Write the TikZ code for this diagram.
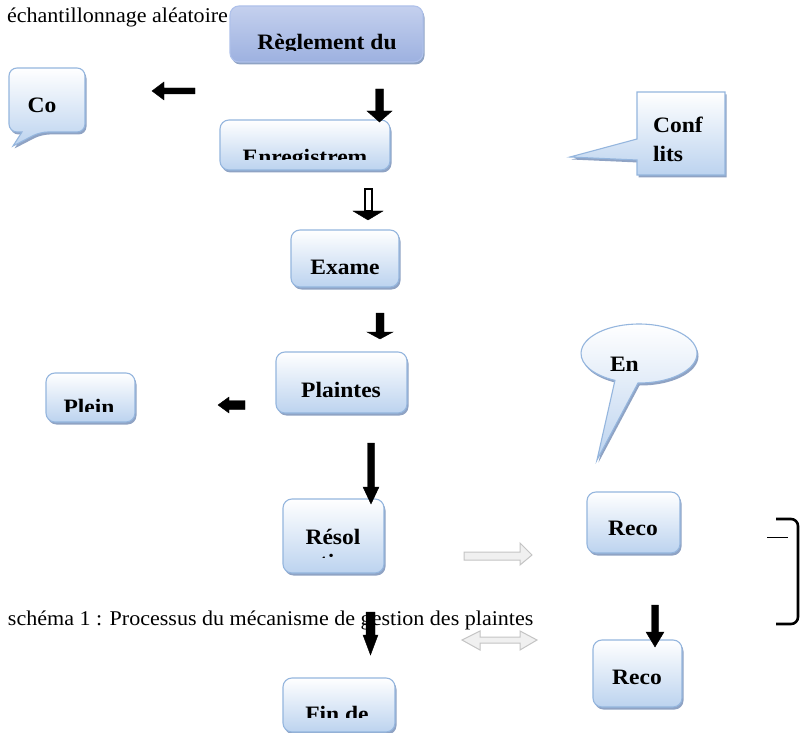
\documentclass[tikz,border=0pt]{standalone}
\usepackage{fontspec}
\setmainfont{Liberation Serif}
\newfontfamily\regf[FakeStretch=1.05]{Liberation Serif}
\newfontfamily\boldf[FakeStretch=1.07]{Liberation Serif}
\usetikzlibrary{shadows}
\definecolor{bordc}{HTML}{95B6DE}
\definecolor{botc}{HTML}{BCD3EF}
\definecolor{shc}{HTML}{8FA3C4}
\definecolor{rtop}{HTML}{C4D0EE}
\definecolor{rmid}{HTML}{E2E8F6}
\definecolor{rbot}{HTML}{9DB1E0}
\definecolor{rbord}{HTML}{AFC1EA}
\definecolor{gfill}{HTML}{F0F0F0}
\definecolor{gdraw}{HTML}{C4C4C4}
\begin{document}
\begin{tikzpicture}[x=1pt,y=-1pt,
  boxsh/.style={draw=bordc, line width=1.1pt, rounded corners=9pt, inner sep=0pt, outer sep=0pt,
    top color=white, bottom color=botc,
    general shadow={fill=shc, shadow xshift=1.5pt, shadow yshift=-2.5pt}},
  reglbox/.style={draw=rbord, line width=1.1pt, rounded corners=9pt, inner sep=0pt, outer sep=0pt,
    top color=rtop, middle color=rmid, bottom color=rbot,
    general shadow={fill=shc, shadow xshift=1.5pt, shadow yshift=-2.5pt}},
  callsh/.style={draw=bordc, line width=1.1pt, top color=white, bottom color=botc,
    general shadow={fill=shc, shadow xshift=1.5pt, shadow yshift=-2.5pt}},
  bt/.style={inner sep=0pt, outer sep=0pt, font=\boldf\bfseries\fontsize{22}{25}\selectfont},
  rt/.style={inner sep=0pt, outer sep=0pt, font=\regf\fontsize{21}{24}\selectfont},
  blk/.style={fill=black, draw=black, line width=0.4pt, line join=miter},
  gry/.style={fill=gfill, draw=gdraw, line width=1pt, line join=miter}]
\useasboundingbox[fill=white] (0,0) rectangle (804,733);

% top-left text
\node[rt, anchor=base west] (ech) at (7,22.5) {échantillonnage aléatoire};

% Règlement box
\node[reglbox, minimum width=193pt, minimum height=56pt] (regl) at (326.5,34) {};
\begin{scope}
  \clip (230,6) rectangle (423,51);
  \node[bt, anchor=base] (tregl) at (327,49.5) {Règlement du};
\end{scope}

% Co callout
\path[callsh] (9,100) [rounded corners=8pt] -- (9,68) -- (85,68) -- (85,132) -- (40,132)
  [sharp corners] -- (13,146) -- (22,132) [rounded corners=8pt] -- (9,132) -- cycle;
\node[bt, anchor=base] (tco) at (42,112.5) {Co};

% Enregistrement box
\node[boxsh, minimum width=170pt, minimum height=50pt] (enr) at (305,145) {};
\begin{scope}
  \clip (220,120) rectangle (390,159.5);
  \node[bt, anchor=base] (tenr) at (305,164.6) {Enregistrem};
\end{scope}

% Conflits callout
\path[callsh] (637,92) -- (725,92) -- (725,175) -- (637,175) -- (637,160) -- (570,157) -- (637,139) -- cycle;
\node[bt, anchor=base west] (tconf) at (653,133) {Conf};
\node[bt, anchor=base west] (tlits) at (653,162) {lits};

% Exame box
\node[boxsh, minimum width=108pt, minimum height=57pt] (exam) at (345,258.5) {};
\node[bt, anchor=base] (texam) at (345,274.5) {Exame};

% Plaintes box
\node[boxsh, minimum width=131pt, minimum height=61pt] (plai) at (341.5,382.5) {};
\node[bt, anchor=base] (tplai) at (341,397) {Plaintes};

% Plein box
\node[boxsh, minimum width=89pt, minimum height=49pt] (plein) at (90.5,397.5) {};
\begin{scope}
  \clip (46,373) rectangle (135,411);
  \node[bt, anchor=base] (tplein) at (89,414.6) {Plein};
\end{scope}

% En ellipse callout
\path[callsh] (638,383) arc[start angle=91, end angle=-245.5, x radius=58, y radius=29.5] -- (597,460) -- cycle;
\begin{scope}
  \clip (581,324) rectangle (697,370.8);
  \node[bt, anchor=base west] (ten) at (610,371.5) {En};
\end{scope}

% Résol box
\node[boxsh, minimum width=101pt, minimum height=74pt] (resol) at (333.5,536) {};
\node[bt, anchor=base] (tresol) at (333,544.5) {Résol};
\begin{scope}
  \clip (283,499) rectangle (384,557.5);
  \node[bt, anchor=base] (tresol2) at (333,569) {ution};
\end{scope}

% Reco boxes
\node[boxsh, minimum width=93pt, minimum height=61pt] (reco1) at (633.5,522.5) {};
\node[bt, anchor=base] (treco1) at (633,535.5) {Reco};
\node[boxsh, minimum width=89pt, minimum height=67pt] (reco2) at (637.5,673.5) {};
\node[bt, anchor=base] (treco2) at (637,684.5) {Reco};

% Fin de box
\node[boxsh, minimum width=112pt, minimum height=54pt] (fin) at (339,705) {};
\begin{scope}
  \clip (283,678) rectangle (395,717);
  \node[bt, anchor=base] (tfin) at (337,721.6) {Fin de};
\end{scope}

% caption
\node[rt, anchor=base west] (cap) at (8,625) {schéma 1 : Processus du mécanisme de gestion des plaintes};

% bracket and small dash
\draw[line width=2.6pt, rounded corners=7pt] (776,519) -- (798,519) -- (798,624) -- (776,624);
\draw[line width=0.8pt] (767,537) -- (788,537);

% black block arrows
\path[blk] (152,91) -- (164,82) -- (164,88) -- (195,88) -- (195,94) -- (164,94) -- (164,100) -- cycle;
\path[blk] (375.5,89) -- (383.5,89) -- (383.5,111) -- (392,111) -- (379.5,122) -- (367,111) -- (375.5,111) -- cycle;
\path[blk] (353,211) -- (383,211) -- (368,220) -- cycle;
\draw[line width=2pt, fill=white] (365,189) -- (371.5,189) -- (371.5,211) -- (365,211) -- cycle;
\path[blk] (376,313) -- (384,313) -- (384,332) -- (393,332) -- (380,339) -- (367,332) -- (376,332) -- cycle;
\path[blk] (218,405) -- (229,397) -- (229,400.5) -- (245,400.5) -- (245,409.5) -- (229,409.5) -- (229,413) -- cycle;
\path[blk] (367.5,443) -- (374.5,443) -- (374.5,487) -- (379,487) -- (371,504) -- (363,487) -- (367.5,487) -- cycle;
\path[blk] (366,612) -- (375,612) -- (375,635) -- (378,635) -- (370.5,655) -- (363,635) -- (366,635) -- cycle;
\path[blk] (651.5,605) -- (658.5,605) -- (658.5,632) -- (664,632) -- (655,647) -- (646,632) -- (651.5,632) -- cycle;

% light grey arrows
\path[gry] (464,552) -- (520,552) -- (520,543) -- (532,555) -- (520,565) -- (520,560) -- (464,560) -- cycle;
\path[gry] (462,640) -- (480,631) -- (480,637) -- (520,637) -- (520,631) -- (537,640) -- (520,650) -- (520,643) -- (480,643) -- (480,650) -- cycle;
\end{tikzpicture}
\end{document}
